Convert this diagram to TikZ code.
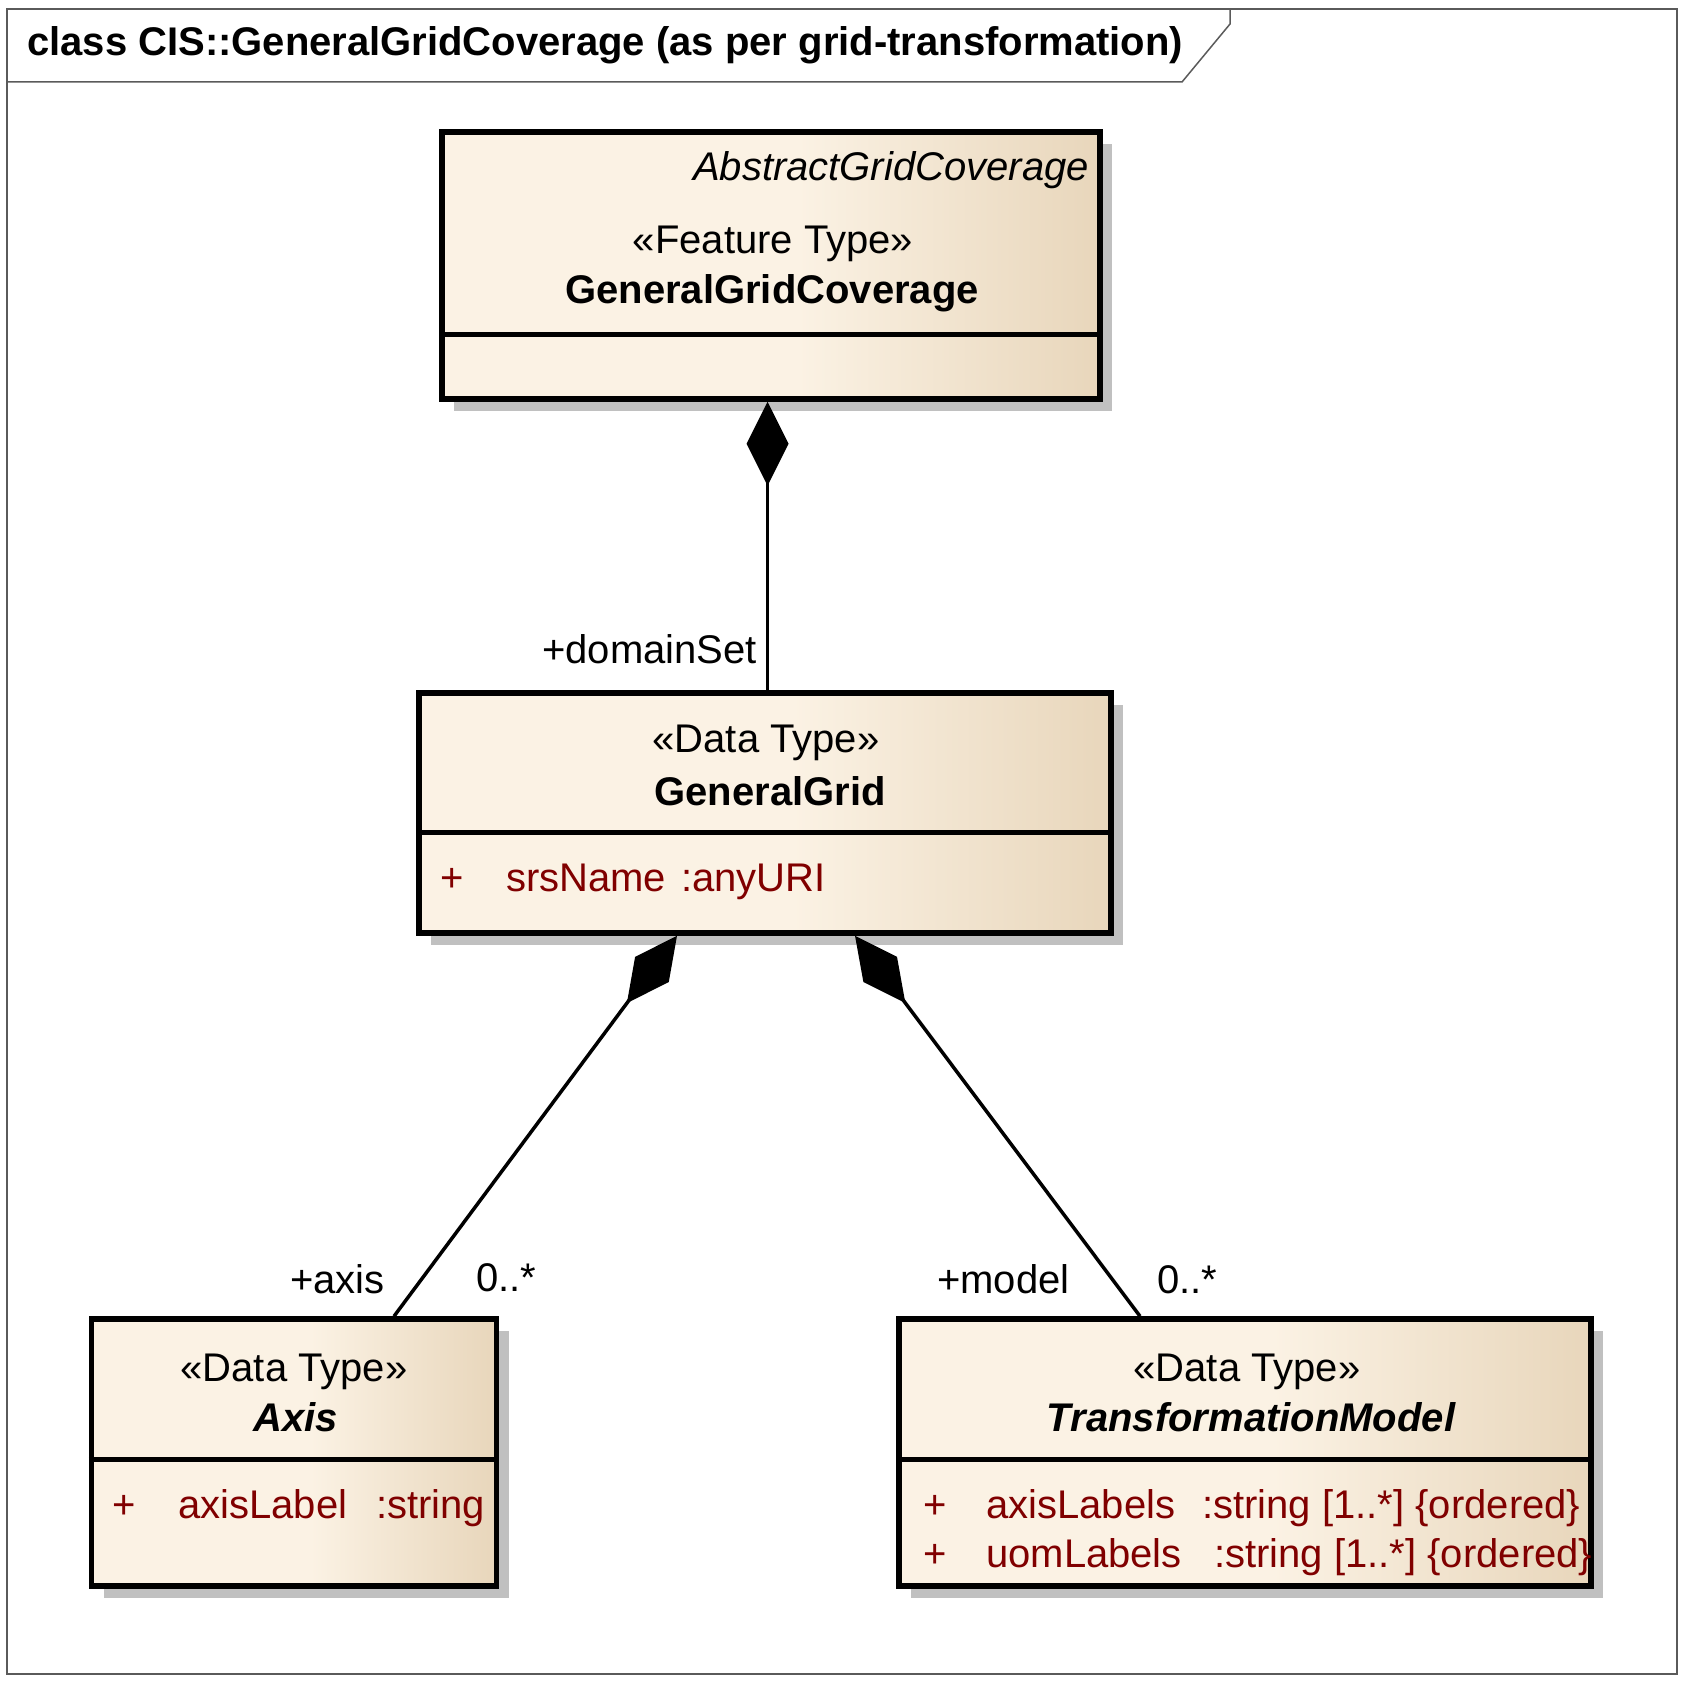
\documentclass[tikz,border=0pt]{standalone}
\usepackage{fontspec}
\setmainfont{Liberation Sans}
\usepackage{tikz}
\definecolor{umlCream}{RGB}{251,242,228}
\definecolor{umlTan}{RGB}{232,214,187}
\definecolor{attrRed}{RGB}{128,0,0}
\definecolor{shadowGray}{RGB}{192,192,192}
\definecolor{frameGray}{RGB}{90,90,90}
\usetikzlibrary{arrows.meta, shadows, calc}
\pgfdeclarehorizontalshading{umlfill}{100bp}{color(0bp)=(umlCream); color(25bp)=(umlCream); color(52bp)=(umlCream); color(75bp)=(umlTan); color(100bp)=(umlTan)}
\newcommand{\umlfont}{\fontsize{40}{48}\selectfont}

\begin{document}
\begin{tikzpicture}[
    x=1pt, y=-1pt,
    cls/.style={rectangle, draw=black, line width=5.5pt, shading=umlfill, inner sep=0pt,
        drop shadow={shadow xshift=12pt, shadow yshift=-12pt, fill=shadowGray, opacity=1}},
    txt/.style={font=\umlfont, inner sep=0pt, anchor=base},
    cname/.style={txt, font=\umlfont\bfseries},
    aname/.style={txt, font=\umlfont\bfseries\itshape},
    attr/.style={txt, anchor=base west, text=attrRed},
    sep/.style={line width=5.5pt},
    comp/.style={line width=3.5pt, -{Diamond[length=84pt, width=42pt]}}
]
    \useasboundingbox (0,0) rectangle (1688,1683);
    % frame and title tab
    \draw[frameGray, line width=1.5pt] (7,9) rectangle (1677,1674);
    \draw[frameGray, line width=1.5pt] (7,82) -- (1182,82) -- (1230,24) -- (1230,9);
    \node[cname, anchor=base west] (title) at (27,56) {class CIS::GeneralGridCoverage (as per grid-transformation)};

    % classes
    \node[cls, minimum width=658pt, minimum height=267pt] (cov) at (771,265.5) {};
    \node[cls, minimum width=692pt, minimum height=240pt] (grid) at (765,813) {};
    \node[cls, minimum width=405pt, minimum height=267pt] (axis) at (294,1452.5) {};
    \node[cls, minimum width=692pt, minimum height=267pt] (model) at (1245,1452.5) {};

    \draw[sep] ($(cov.north west)+(0,205)$) -- ($(cov.north east)+(0,205)$);
    \draw[sep] ($(grid.north west)+(0,142)$) -- ($(grid.north east)+(0,142)$);
    \draw[sep] ($(axis.north west)+(0,143)$) -- ($(axis.north east)+(0,143)$);
    \draw[sep] ($(model.north west)+(0,143)$) -- ($(model.north east)+(0,143)$);

    \node[txt, anchor=base east, font=\umlfont\itshape] (covAbs) at (1089,180) {AbstractGridCoverage};
    \node[txt] (covSt) at (773,253) {«Feature Type»};
    \node[cname] (covName) at (772,303) {GeneralGridCoverage};

    \node[txt] (gridSt) at (766,752) {«Data Type»};
    \node[cname] (gridName) at (770,805) {GeneralGrid};
    \node[attr] (srsP) at (440,891) {+};
    \node[attr] (srsN) at (506,891) {srsName};
    \node[attr] (srsT) at (681,891) {:anyURI};

    \node[txt] (axisSt) at (294,1381) {«Data Type»};
    \node[aname] (axisName) at (296,1431) {Axis};
    \node[attr] (labP) at (112,1518) {+};
    \node[attr] (labN) at (178,1518) {axisLabel};
    \node[attr] (labT) at (376,1518) {:string};

    \node[txt] (modelSt) at (1247,1381) {«Data Type»};
    \node[aname] (modelName) at (1251,1431) {TransformationModel};
    \node[attr] (axlP) at (923,1518) {+};
    \node[attr] (axlN) at (986,1518) {axisLabels};
    \node[attr] (axlT) at (1202,1518) {:string [1..*] \{ordered\}};
    \node[attr] (uomP) at (923,1567) {+};
    \node[attr] (uomN) at (986,1567) {uomLabels};
    \node[attr] (uomT) at (1214,1567) {:string [1..*] \{ordered\}};

    % compositions
    \draw[comp] ([xshift=2.5pt]grid.north) -- ([xshift=-3.5pt]cov.south);
    \draw[comp] ([xshift=100pt]axis.north) -- ([xshift=-88pt]grid.south);
    \draw[comp] ([xshift=-105pt]model.north) -- ([xshift=90pt]grid.south);

    \node[txt, anchor=base east] (roleDom) at (757,663) {+domainSet};
    \node[txt, anchor=base east] (roleAxis) at (385,1293) {+axis};
    \node[txt, anchor=base west] (multAxis) at (476,1291) {0..*};
    \node[txt, anchor=base west] (roleModel) at (937,1293) {+model};
    \node[txt, anchor=base west] (multModel) at (1157,1293) {0..*};
\end{tikzpicture}
\end{document}
